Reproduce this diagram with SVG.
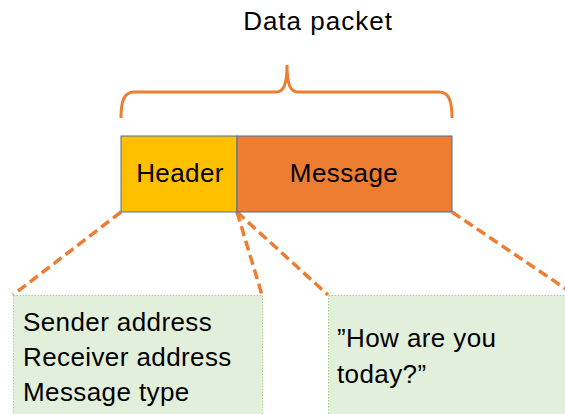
<svg xmlns="http://www.w3.org/2000/svg" width="565" height="414" viewBox="0 0 565 414">
<style>
text{font-family:"Segoe Print","Comic Sans MS","Liberation Sans",sans-serif;fill:#000;}
.t{font-size:26px;letter-spacing:0.4px;}
.bar{stroke:#4A6FA5;stroke-width:1;}
.detail{fill:#E2EFDA;stroke:#A9D08E;stroke-width:1;stroke-dasharray:1.5,1.5;}
.conn{stroke:#ED7D31;stroke-width:3.5;stroke-dasharray:10,5;fill:none;}
.brace{stroke:#ED7D31;stroke-width:3;fill:none;}
</style>
<rect width="565" height="414" fill="#fff"/>
<g id="title">
<text x="318" y="30" text-anchor="middle" font-size="26" letter-spacing="1">Data packet</text>
</g>
<g id="brace">
<path class="brace" d="M121,118 C121,101 124,92 134,92 L276,92 C283,92 287,86 287,65 C287,86 291,92 298,92 L439,92 C449,92 452,101 452,118"/>
</g>
<g id="connectors">
<line class="conn" x1="121" y1="212" x2="13" y2="295"/>
<line class="conn" x1="237" y1="212" x2="262" y2="295"/>
<line class="conn" x1="237" y1="212" x2="328" y2="295"/>
<line class="conn" x1="452" y1="212" x2="566" y2="289"/>
</g>
<g id="header">
<rect class="bar" x="121" y="136" width="116" height="76" fill="#FFC000"/>
<text class="t" x="180" y="182" text-anchor="middle" letter-spacing="0">Header</text>
</g>
<g id="message">
<rect class="bar" x="237" y="136" width="215" height="76" fill="#ED7D31"/>
<text class="t" x="344" y="182" text-anchor="middle">Message</text>
</g>
<g id="header-detail">
<rect class="detail" x="13.5" y="295.5" width="249" height="130"/>
<text class="t" x="23" y="331">Sender address</text>
<text class="t" x="23" y="366">Receiver address</text>
<text class="t" x="23" y="401">Message type</text>
</g>
<g id="message-detail">
<rect class="detail" x="328.5" y="295.5" width="250" height="130"/>
<text class="t" x="337" y="347">”How are you</text>
<text class="t" x="337" y="383">today?”</text>
</g>
</svg>
